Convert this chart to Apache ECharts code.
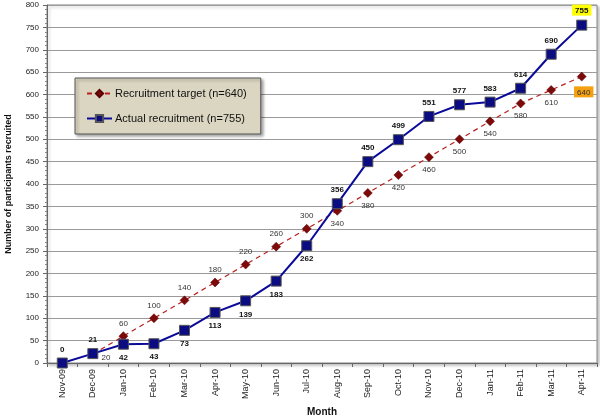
<!DOCTYPE html>
<html><head><meta charset="utf-8">
<script src="https://cdn.jsdelivr.net/npm/echarts@6/dist/echarts.min.js"></script>
<style>html,body{margin:0;padding:0;background:#fff}#c{width:600px;height:418px}</style>
</head><body><div id="c"></div>
<script>
const months = ['Nov-09','Dec-09','Jan-10','Feb-10','Mar-10','Apr-10','May-10','Jun-10','Jul-10','Aug-10','Sep-10','Oct-10','Nov-10','Dec-10','Jan-11','Feb-11','Mar-11','Apr-11'];
const target = [null,20,60,100,140,180,220,260,300,340,380,420,460,500,540,580,610,640];
const actual = [0,21,42,43,73,113,139,183,262,356,450,499,551,577,583,614,690,755];
const targetLabelPos = [null,'right','top','top','top','top','top','top','top','bottom','bottom','bottom','bottom','bottom','bottom','bottom','bottom','bottom'];
const actualLabelPos = ['top','top','bottom','bottom','bottom','bottom','bottom','bottom','bottom','top','top','top','top','top','top','top','top','top'];

const FONT = 'Liberation Sans, Arial, sans-serif';
const chart = echarts.init(document.getElementById('c'));

const targetData = target.map((v,i)=>{
  if (v===null) return null;
  const o = {value:v, label:{position:targetLabelPos[i]}};
  if (i===target.length-1) o.label = {position:'bottom', backgroundColor:'#f5a011', padding:[2,3,1,3], distance:5, offset:[2,0]};
  if (i===1) o.label = {position:'right', offset:[0,4]};
  return o;
});
const actualData = actual.map((v,i)=>{
  const o = {value:v, label:{position:actualLabelPos[i]}};
  if (i===actual.length-1) o.label = {position:'top', backgroundColor:'#ffff00', padding:[2,3,1,3]};
  return o;
});

chart.setOption({
  animation:false,
  textStyle:{fontFamily:FONT},
  grid:{left:47,right:3,top:5,bottom:55,outerBoundsMode:'none',containLabel:false,show:true,borderColor:'#888',borderWidth:1,shadowColor:'rgba(0,0,0,0.25)',shadowBlur:3,shadowOffsetX:2,shadowOffsetY:2,backgroundColor:'#fff'},
  legend:{
    left:75,top:78,orient:'vertical',itemGap:14,itemWidth:25,itemHeight:9,
    padding:[10,14,10,11],
    backgroundColor:'#dbd6c1',borderColor:'#555',borderWidth:1,
    shadowColor:'rgba(0,0,0,0.35)',shadowBlur:3,shadowOffsetX:2,shadowOffsetY:2,
    textStyle:{fontSize:11,color:'#111',fontFamily:FONT,padding:[0,0,0,-2]},
    data:['Recruitment target (n=640)','Actual recruitment (n=755)']
  },
  xAxis:{
    type:'category',data:months,boundaryGap:true,
    name:'Month',nameLocation:'middle',nameGap:44,
    nameTextStyle:{fontWeight:'bold',fontSize:10,color:'#111'},
    axisLine:{lineStyle:{color:'#666'}},
    axisTick:{show:true,alignWithLabel:false,lineStyle:{color:'#666'},length:4},
    axisLabel:{rotate:90,fontSize:9,color:'#222',margin:6,interval:0}
  },
  yAxis:{
    type:'value',min:0,max:800,interval:50,
    name:'Number of participants recruited',nameLocation:'middle',nameGap:34,
    nameTextStyle:{fontWeight:'bold',fontSize:9,color:'#111'},
    axisLine:{show:true,lineStyle:{color:'#666'}},
    axisTick:{show:true,lineStyle:{color:'#666'},length:4},
    minorTick:{show:true,splitNumber:5,length:2,lineStyle:{color:'#888'}},
    axisLabel:{fontSize:8,color:'#222',margin:8},
    splitLine:{lineStyle:{color:'#9a9a9a',width:1}}
  },
  series:[
    {
      name:'Recruitment target (n=640)',type:'line',data:targetData,
      symbol:'diamond',symbolSize:9,
      lineStyle:{color:'#b8201e',width:1.2,type:[5,4]},
      itemStyle:{color:'#7d0a0a',borderColor:'#5a0000',borderWidth:0.5},
      label:{show:true,fontSize:8,color:'#333',distance:4},
      z:2
    },
    {
      name:'Actual recruitment (n=755)',type:'line',data:actualData,
      symbol:'rect',symbolSize:10,
      lineStyle:{color:'#0a0a9a',width:2},
      itemStyle:{color:'#0b0b82',borderColor:'#555',borderWidth:1},
      label:{show:true,fontSize:8,fontWeight:'bold',color:'#111',distance:4},
      z:3
    }
  ]
});
</script></body></html>
